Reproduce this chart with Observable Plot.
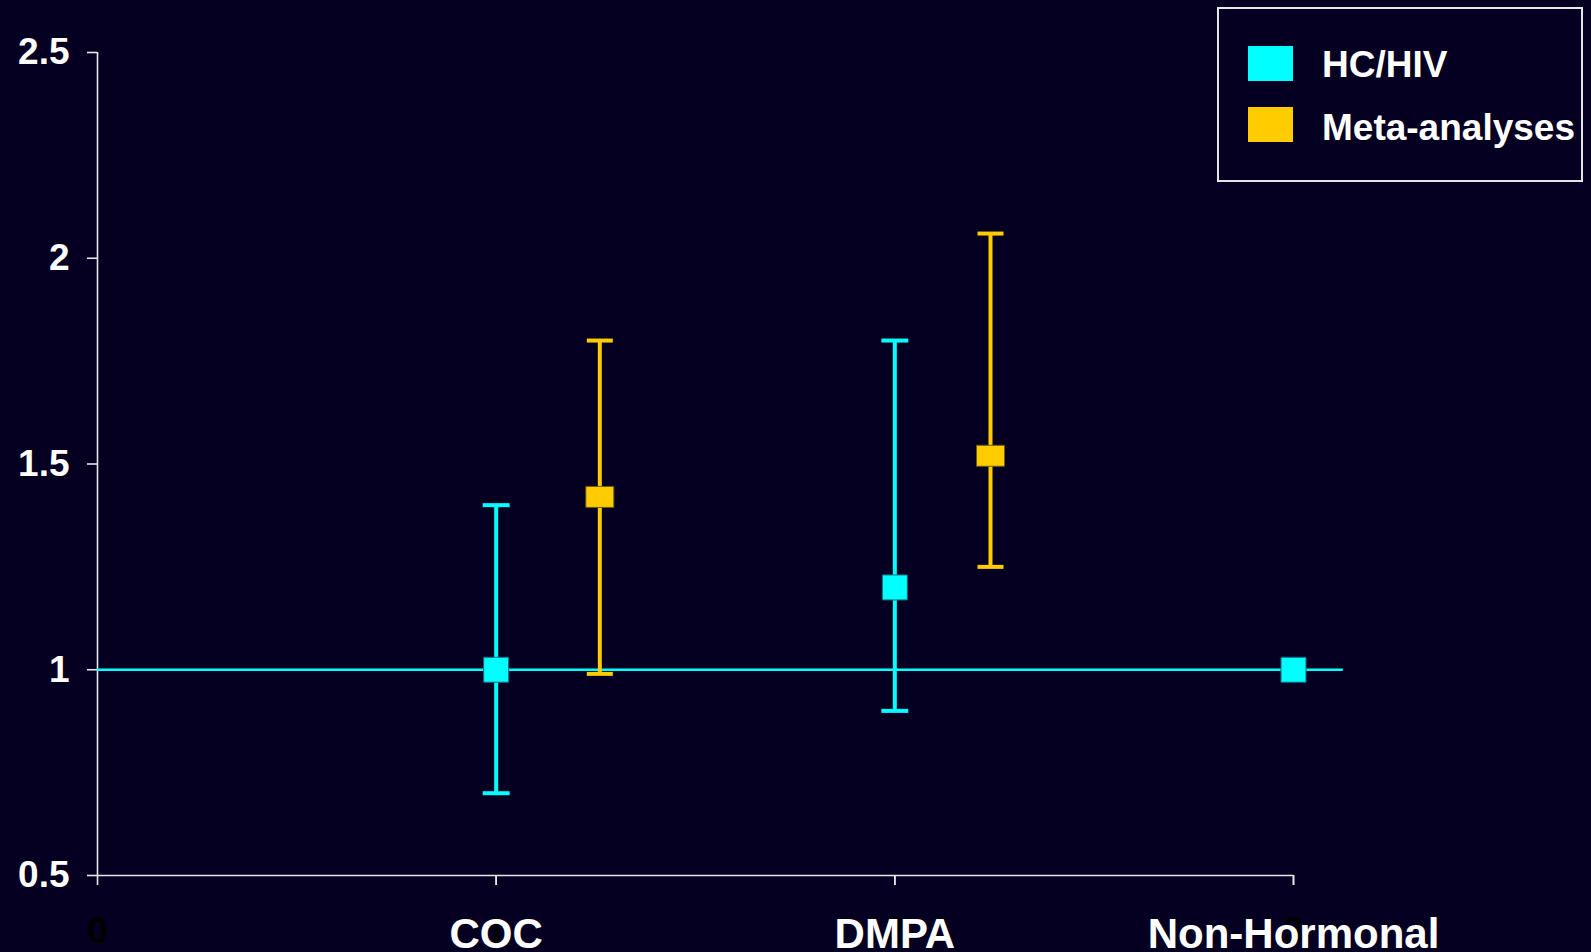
<!DOCTYPE html>
<html>
<head>
<meta charset="utf-8">
<script src="https://cdn.jsdelivr.net/npm/d3@7"></script>
<script src="https://cdn.jsdelivr.net/npm/@observablehq/plot@0.6"></script>
<style>
  html, body { margin: 0; padding: 0; background: #050022; overflow: hidden; }
  #wrap { position: relative; width: 1591px; height: 952px; }
  #legend { position: absolute; left: 1217px; top: 7px; width: 362px; height: 171px;
    border: 2px solid #e6e6e6; box-sizing: content-box; font-family: "Liberation Sans", Arial, sans-serif; }
  .sw { position: absolute; left: 29px; width: 45px; height: 35px; }
  .lt { position: absolute; left: 103px; color: #ffffff; font-weight: bold; font-size: 37px; line-height: 37px; white-space: nowrap; }
</style>
</head>
<body>
<div id="wrap"></div>
<script>
// ---- data ----
const tickPositions = [0, 1, 2, 3];
const categories = ["0", "COC", "DMPA", "Non-Hormonal"];
const yTicks = [0.5, 1, 1.5, 2, 2.5];

const hcX = [1, 2, 3];
const hcEst = [1.0, 1.2, 1.0];
const hcLow = [0.70, 0.90, null];
const hcHigh = [1.40, 1.80, null];

const metaX = [1.26, 2.24];
const metaEst = [1.42, 1.52];
const metaLow = [0.99, 1.25];
const metaHigh = [1.80, 2.06];

const refY = [1];
const refFrom = [0];
const refTo = [3.125];

const seriesNames = ["HC/HIV", "Meta-analyses"];
const seriesColors = ["#00ffff", "#ffcc00"];

// ---- build rows ----
const hc = hcX.map((x, i) => ({x, est: hcEst[i], lo: hcLow[i], hi: hcHigh[i]}));
const meta = metaX.map((x, i) => ({x, est: metaEst[i], lo: metaLow[i], hi: metaHigh[i]}));
const hcCI = hc.filter(d => d.lo != null);
const ref = refY.map((y, i) => ({y, x1: refFrom[i], x2: refTo[i]}));

function rectSymbol(w, h) {
  return {draw(ctx) {
    ctx.moveTo(-w / 2, -h / 2); ctx.lineTo(w / 2, -h / 2);
    ctx.lineTo(w / 2, h / 2); ctx.lineTo(-w / 2, h / 2); ctx.closePath();
  }};
}

const font = "'Liberation Sans', Arial, Helvetica, sans-serif";
const axisColor = "#e6e6e6";

const chart = Plot.plot({
  width: 1591,
  height: 952,
  marginLeft: 97,
  marginRight: 298,
  marginTop: 52,
  marginBottom: 77,
  style: {background: "#050022", fontFamily: font, color: "white", overflow: "visible"},
  x: {domain: [0, 3]},
  y: {domain: [0.5, 2.5]},
  marks: [
    // axis lines
    Plot.ruleY([0.5], {stroke: axisColor, strokeWidth: 1.6}),
    Plot.ruleX([0], {y1: 0.5, y2: 2.5, stroke: axisColor, strokeWidth: 1.6}),
    // y axis
    Plot.axisY({ticks: yTicks, tickSize: 10, tickPadding: 18, fontSize: 37, fontWeight: "bold",
      tickFormat: d => String(d), stroke: axisColor, fill: "white", strokeWidth: 1.6}),
    // x axis ticks + (black) numeric labels
    Plot.axisX({ticks: tickPositions, tickSize: 10, tickPadding: 31, fontSize: 37, fontWeight: "bold",
      tickFormat: d => String(d), stroke: axisColor, fill: "#000000", strokeWidth: 1.6}),
    // category labels in white
    Plot.axisX({ticks: tickPositions.slice(1), tickSize: 10, tickPadding: 33, fontSize: 42, fontWeight: "bold",
      tickFormat: d => categories[d], stroke: axisColor, fill: "white", strokeWidth: 1.6}),
    // reference line at 1
    Plot.ruleY(ref, {y: "y", x1: "x1", x2: "x2", stroke: seriesColors[0], strokeWidth: 2.5}),
    // HC/HIV error bars
    Plot.ruleX(hcCI, {x: "x", y1: "lo", y2: "hi", stroke: seriesColors[0], strokeWidth: 4}),
    Plot.dot(hcCI, {x: "x", y: "lo", symbol: rectSymbol(27, 4), fill: seriesColors[0], stroke: "none"}),
    Plot.dot(hcCI, {x: "x", y: "hi", symbol: rectSymbol(27, 4), fill: seriesColors[0], stroke: "none"}),
    // Meta error bars
    Plot.ruleX(meta, {x: "x", y1: "lo", y2: "hi", stroke: seriesColors[1], strokeWidth: 4}),
    Plot.dot(meta, {x: "x", y: "lo", symbol: rectSymbol(26, 4), fill: seriesColors[1], stroke: "none"}),
    Plot.dot(meta, {x: "x", y: "hi", symbol: rectSymbol(26, 4), fill: seriesColors[1], stroke: "none"}),
    // markers
    Plot.dot(hc, {x: "x", y: "est", symbol: rectSymbol(25, 25), fill: seriesColors[0], stroke: "#0a6b78", strokeWidth: 1}),
    Plot.dot(meta, {x: "x", y: "est", symbol: rectSymbol(28, 21), fill: seriesColors[1], stroke: "#6b5a10", strokeWidth: 1})
  ]
});

const wrap = document.getElementById("wrap");
wrap.appendChild(chart);

// legend
const legend = document.createElement("div");
legend.id = "legend";
const swTops = [37, 98];
const txTops = [37, 100];
seriesNames.forEach((name, i) => {
  const sw = document.createElement("div");
  sw.className = "sw";
  sw.style.top = swTops[i] + "px";
  sw.style.background = seriesColors[i];
  legend.appendChild(sw);
  const t = document.createElement("div");
  t.className = "lt";
  t.style.top = txTops[i] + "px";
  t.textContent = name;
  legend.appendChild(t);
});
wrap.appendChild(legend);
</script>
</body>
</html>
